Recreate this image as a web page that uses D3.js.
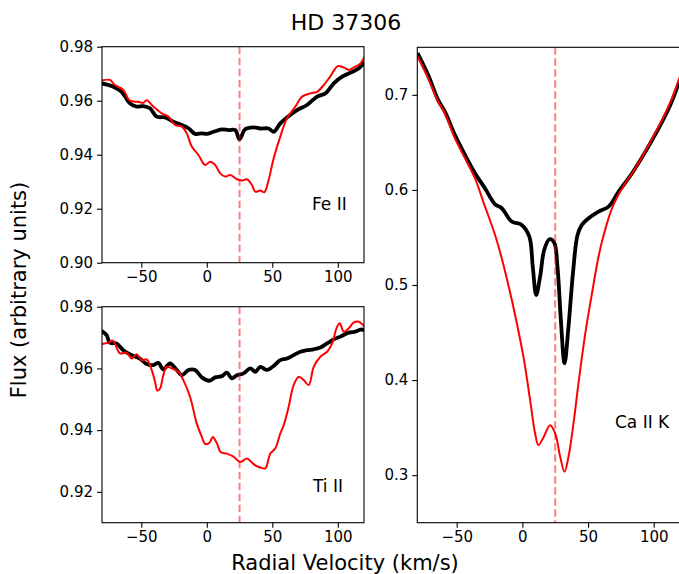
<!DOCTYPE html>
<html>
<head>
<meta charset="utf-8">
<script src="https://cdn.jsdelivr.net/npm/d3@7"></script>
<style>
  body { margin: 0; background: #fff; }
  svg text { font-family: "DejaVu Sans", sans-serif; fill: #000; }
</style>
</head>
<body>
<svg id="chart" width="679" height="574"></svg>
<script>
// velocity (km/s), flux pairs
const feIIBlack = [[-80.4,0.9664],[-71.4,0.9652],[-65,0.9633],[-58.7,0.959],[-53.6,0.9578],[-48.5,0.958],[-43.4,0.9572],
  [-38.3,0.9541],[-31.9,0.9538],[-25.5,0.9522],[-19.1,0.951],[-14,0.9498],[-8.9,0.9477],[-3.8,0.9479],[0,0.9477],
  [5.1,0.9485],[11.5,0.9494],[16.6,0.9491],[21.7,0.9491],[25,0.9457],[29.3,0.9494],[35.7,0.9501],[40.8,0.9497],
  [47.2,0.9497],[51,0.9485],[56.1,0.9516],[61.2,0.9538],[68.9,0.9565],[76.5,0.9584],[84.2,0.9615],[90.6,0.9627],
  [96.9,0.9664],[103.3,0.9689],[109.7,0.9704],[116.1,0.972],[120.4,0.9744]];
const feIIRed = [[-80.4,0.9674],[-74,0.9677],[-70.2,0.9658],[-63.8,0.964],[-58.7,0.96],[-52.3,0.9596],[-48.5,0.9592],
  [-45.9,0.9602],[-40.8,0.9578],[-34.4,0.9553],[-29.3,0.9541],[-24.2,0.951],[-19.1,0.9504],[-15.3,0.9479],
  [-11.5,0.943],[-6.4,0.9399],[-1.3,0.9362],[2.6,0.9374],[6.4,0.9362],[10.2,0.9331],[14,0.9319],[17.9,0.9325],
  [23,0.9309],[26.8,0.9304],[30.6,0.9309],[34.4,0.9288],[37,0.9263],[40.8,0.9267],[43.9,0.9261],[47.2,0.9306],
  [51,0.9386],[56.1,0.9467],[61.2,0.9535],[67.6,0.9578],[72.7,0.9615],[79.1,0.9627],[84.2,0.9633],[89.3,0.9658],
  [94.4,0.9691],[100,0.9728],[104.6,0.9723],[108.4,0.9714],[112.2,0.9723],[117.3,0.9738],[120.4,0.9763]];

const tiIIBlack = [[-80.4,0.9722],[-76.5,0.9708],[-74,0.9683],[-68.9,0.9681],[-63.8,0.9659],[-57.4,0.9643],[-51,0.9632],
  [-45.9,0.9614],[-40.8,0.9611],[-37,0.9618],[-33.2,0.9597],[-28.1,0.9616],[-23,0.9595],[-19.1,0.9578],[-14,0.9595],
  [-8.9,0.9595],[-3.8,0.9571],[2,0.956],[6.4,0.9571],[11.5,0.9575],[15.3,0.9586],[19.1,0.9568],[23,0.9578],
  [28.1,0.9584],[33.2,0.96],[37,0.9589],[40.8,0.9605],[45.9,0.9595],[51,0.9608],[56.1,0.9627],[61.2,0.9632],
  [66.3,0.9643],[71.4,0.9654],[76.5,0.9659],[81.6,0.9662],[86.7,0.9668],[91.8,0.9681],[96.9,0.9694],[102,0.9703],
  [108.4,0.9716],[113.5,0.9719],[117.3,0.9726],[120.4,0.9724]];
const tiIIRed = [[-80.4,0.9679],[-75.3,0.9683],[-71.7,0.969],[-66.3,0.9649],[-61.2,0.9651],[-57.4,0.9632],[-53.6,0.9646],
  [-49.7,0.9627],[-45.9,0.9629],[-42.1,0.9595],[-39.5,0.9557],[-37.8,0.9528],[-35.7,0.9535],[-33.2,0.9578],
  [-30.6,0.9605],[-26.8,0.96],[-21.7,0.9589],[-17.9,0.9562],[-12.8,0.9508],[-7.7,0.9422],[-3.8,0.9378],
  [-1.3,0.9355],[2,0.9359],[4.6,0.9378],[7.7,0.9357],[10.7,0.9328],[15.3,0.9324],[20.4,0.9314],[25.5,0.9297],
  [30.6,0.9308],[33.2,0.93],[37,0.9286],[40.8,0.9279],[44.6,0.9276],[48.5,0.9324],[52.3,0.9341],[56.1,0.9389],
  [58.7,0.9416],[62.5,0.9476],[66.3,0.9546],[70.2,0.9573],[74,0.9562],[77.8,0.9546],[81.6,0.9605],[86.7,0.9638],
  [91.8,0.9654],[95.7,0.9681],[99,0.973],[101.5,0.9746],[104.6,0.9719],[108.4,0.973],[112.2,0.9749],[116.1,0.9751],
  [120.4,0.9735]];

const caIIBlack = [[-79.8,0.7439],[-71.8,0.721],[-64.2,0.6947],[-59,0.6824],[-51.4,0.6579],[-43.7,0.6368],[-36.1,0.6176],
  [-28.5,0.6018],[-20.8,0.5849],[-15.7,0.5807],[-8.1,0.5667],[-0.5,0.5632],[5.3,0.5508],[7.9,0.5193],[10.5,0.4895],
  [13.5,0.5088],[16.6,0.5368],[20.6,0.5481],[24.2,0.5446],[26.7,0.5193],[29.3,0.4632],[32.1,0.4176],[35.1,0.4561],
  [38.5,0.5123],[42,0.5526],[45.3,0.5632],[50.4,0.5702],[58,0.5772],[65.6,0.5825],[73.3,0.5982],[83.5,0.6176],
  [93.7,0.6403],[103.8,0.6649],[112.7,0.6895],[119.6,0.714],[121,0.718]];
const caIIRed = [[-79.8,0.7403],[-71.8,0.7176],[-64.2,0.693],[-59,0.6807],[-51.4,0.6544],[-43.7,0.6333],[-36.1,0.6123],
  [-29.8,0.5877],[-20.8,0.5526],[-15.7,0.5281],[-10.7,0.5],[-6.9,0.4772],[0.8,0.4246],[5.9,0.3789],[9.7,0.3439],
  [12.2,0.3316],[16,0.3397],[21.1,0.3526],[25,0.3439],[28.8,0.3193],[32.1,0.3035],[35.1,0.3193],[38.9,0.3544],
  [42.7,0.3965],[47.9,0.4491],[53,0.4912],[58,0.530],[62,0.553],[68.2,0.5807],[75.9,0.6018],[86,0.6228],
  [96.2,0.6474],[106.4,0.6737],[114,0.6965],[119.6,0.7176],[121,0.722]];

const velTicks = [-50, 0, 50, 100];
const feTicks = [0.90, 0.92, 0.94, 0.96, 0.98];
const tiTicks = [0.92, 0.94, 0.96, 0.98];
const caTicks = [0.3, 0.4, 0.5, 0.6, 0.7];
const restVelocity = 25;

const svg = d3.select("#chart");

const panels = [
  {id: "fe", label: "Fe II", black: feIIBlack, red: feIIRed, yDomain: [0.90, 0.98], ticks: feTicks, fmt: ".2f",
   x0: 102, x1: 364, y0: 46.7, y1: 262.7, labelX: 312, labelY: 210},
  {id: "ti", label: "Ti II", black: tiIIBlack, red: tiIIRed, yDomain: [0.91, 0.98], ticks: tiTicks, fmt: ".2f",
   x0: 102, x1: 364, y0: 306.7, y1: 522.7, labelX: 313, labelY: 492},
  {id: "ca", label: "Ca II K", black: caIIBlack, red: caIIRed, yDomain: [0.25, 0.75], ticks: caTicks, fmt: ".1f",
   x0: 417.3, x1: 680, y0: 47.3, y1: 522.7, labelX: 615, labelY: 428}
];

const minusFmt = (f) => (d) => d3.format(f)(d).replace("-", "\u2212");

panels.forEach((p) => {
  const x = d3.scaleLinear().domain([-80, 120]).range([p.x0, p.x1]);
  const y = d3.scaleLinear().domain(p.yDomain).range([p.y1, p.y0]);

  svg.append("clipPath").attr("id", "clip-" + p.id)
    .append("rect")
    .attr("x", p.x0).attr("y", p.y0)
    .attr("width", p.x1 - p.x0).attr("height", p.y1 - p.y0);

  const g = svg.append("g").attr("clip-path", "url(#clip-" + p.id + ")");

  const line = d3.line()
    .x((d) => x(d[0]))
    .y((d) => y(d[1]))
    .curve(d3.curveCatmullRom.alpha(0.5));

  g.append("path").datum(p.black)
    .attr("d", line)
    .attr("fill", "none").attr("stroke", "#000")
    .attr("stroke-width", 3.8).attr("stroke-linejoin", "round");

  g.append("path").datum(p.red)
    .attr("d", line)
    .attr("fill", "none").attr("stroke", "#ff0000")
    .attr("stroke-width", 2).attr("stroke-linejoin", "round");

  g.append("line")
    .attr("x1", x(restVelocity)).attr("x2", x(restVelocity))
    .attr("y1", p.y0).attr("y2", p.y1)
    .attr("stroke", "#ff0000").attr("stroke-opacity", 0.5)
    .attr("stroke-width", 2).attr("stroke-dasharray", "7.5,3.5");

  // frame
  svg.append("rect")
    .attr("x", p.x0).attr("y", p.y0)
    .attr("width", p.x1 - p.x0).attr("height", p.y1 - p.y0)
    .attr("fill", "none").attr("stroke", "#000").attr("stroke-width", 1.1);

  const xAxis = svg.append("g")
    .attr("transform", "translate(0," + p.y1 + ")")
    .call(d3.axisBottom(x).tickValues(velTicks).tickSize(5).tickPadding(4).tickFormat(minusFmt("d")));
  const yAxis = svg.append("g")
    .attr("transform", "translate(" + p.x0 + ",0)")
    .call(d3.axisLeft(y).tickValues(p.ticks).tickSize(5).tickPadding(4).tickFormat(minusFmt(p.fmt)));

  [xAxis, yAxis].forEach((a) => {
    a.select(".domain").remove();
    a.selectAll(".tick line").attr("stroke", "#000").attr("stroke-width", 1.1);
    a.selectAll(".tick text").style("font-size", "15px").style("font-family", "DejaVu Sans");
  });

  svg.append("text")
    .attr("x", p.labelX).attr("y", p.labelY)
    .style("font-size", "17px")
    .text(p.label);
});

svg.append("text")
  .attr("x", 346).attr("y", 30)
  .attr("text-anchor", "middle")
  .style("font-size", "22px")
  .text("HD 37306");

svg.append("text")
  .attr("x", 345).attr("y", 570)
  .attr("text-anchor", "middle")
  .style("font-size", "21px")
  .text("Radial Velocity (km/s)");

svg.append("text")
  .attr("transform", "translate(26,290) rotate(-90)")
  .attr("text-anchor", "middle")
  .style("font-size", "21px")
  .text("Flux (arbitrary units)");
</script>
</body>
</html>
